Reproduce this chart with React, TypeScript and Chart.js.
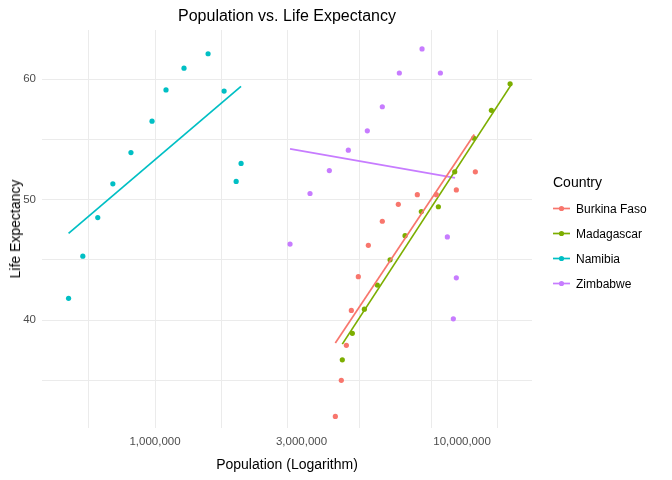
import { useEffect, useRef } from 'react';
import { Chart, registerables, type ChartConfiguration } from 'chart.js';

Chart.register(...registerables);

// population / life expectancy
const namibiaPop = [523000, 582000, 651000, 729000, 835000, 978000, 1086000, 1243000, 1489000, 1679000, 1838000, 1907000];
const namibiaLife = [41.8, 45.3, 48.5, 51.3, 53.9, 56.5, 59.1, 60.9, 62.1, 59.0, 51.5, 53.0];

const zimbabwePop = [2753000, 3198000, 3697000, 4263000, 4915000, 5500000, 6249000, 7409000, 8501000, 8957000, 9581000, 9369000];
const zimbabweLife = [46.3, 50.5, 52.4, 54.1, 55.7, 57.7, 60.5, 62.5, 60.5, 46.9, 43.5, 40.1];

const burkinaPop = [3867000, 4044000, 4200000, 4360000, 4594000, 4953000, 5500000, 6201000, 7152000, 8246000, 9581000, 11050000];
const burkinaLife = [32.0, 35.0, 37.9, 40.8, 43.6, 46.2, 48.2, 49.6, 50.4, 50.4, 50.8, 52.3];

const madagascarPop = [4074000, 4393000, 4807000, 5298000, 5830000, 6522000, 7370000, 8374000, 9467000, 10920000, 12460000, 14340000];
const madagascarLife = [36.7, 38.9, 40.9, 42.9, 45.0, 47.0, 49.0, 49.4, 52.3, 55.1, 57.4, 59.6];

// fitted trend line end points
const namibiaFitPop = [523000, 1906000];
const namibiaFitLife = [47.2, 59.4];
const zimbabweFitPop = [2753000, 9489000];
const zimbabweFitLife = [54.2, 51.8];
const burkinaFitPop = [3867000, 10960000];
const burkinaFitLife = [38.1, 55.4];
const madagascarFitPop = [4074000, 14520000];
const madagascarFitLife = [38.0, 59.6];

const X_GRID = [609000, 1000000, 1641000, 2692000, 4620000, 7930000, 13000000];
const X_LABELS = [1000000, 3000000, 10000000];
const Y_GRID = [35, 40, 45, 50, 55, 60];
const Y_LABELS = [40, 50, 60];

const countries = ['Burkina Faso', 'Madagascar', 'Namibia', 'Zimbabwe'];
const colors = ['#F8766D', '#7CAE00', '#00BFC4', '#C77CFF'];

const pts = (xs: number[], ys: number[]) => xs.map((x, i) => ({ x, y: ys[i] }));

export default function App() {
  const canvasRef = useRef<HTMLCanvasElement>(null);

  useEffect(() => {
    if (!canvasRef.current) return;
    const series = [
      [burkinaPop, burkinaLife, burkinaFitPop, burkinaFitLife],
      [madagascarPop, madagascarLife, madagascarFitPop, madagascarFitLife],
      [namibiaPop, namibiaLife, namibiaFitPop, namibiaFitLife],
      [zimbabwePop, zimbabweLife, zimbabweFitPop, zimbabweFitLife],
    ];
    const datasets: any[] = [];
    series.forEach(([px, py, fx, fy], i) => {
      datasets.push({
        label: countries[i],
        data: pts(px, py),
        backgroundColor: colors[i],
        borderColor: colors[i],
        pointRadius: 2.6,
        pointBorderWidth: 0,
        showLine: false,
      });
      datasets.push({
        label: countries[i] + ' fit',
        data: pts(fx, fy),
        borderColor: colors[i],
        borderWidth: 1.7,
        pointRadius: 0,
        showLine: true,
      });
    });

    const tickFont = { family: 'Arial, "Liberation Sans", sans-serif', size: 11.5 };
    const config: ChartConfiguration<'scatter'> = {
      type: 'scatter',
      data: { datasets },
      options: {
        animation: false,
        responsive: false,
        layout: { padding: { left: 0, top: 30, right: 140, bottom: 0 } },
        plugins: { legend: { display: false }, tooltip: { enabled: false } },
        scales: {
          x: {
            type: 'logarithmic',
            min: 428500,
            max: 16900000,
            border: { display: false },
            afterBuildTicks: (s: any) => {
              const vals = Array.from(new Set([...X_GRID, ...X_LABELS])).sort((a, b) => a - b);
              s.ticks = vals.map((v) => ({ value: v }));
            },
            afterFit: (s: any) => { s.height = 52; },
            grid: {
              drawTicks: false,
              color: (ctx: any) => (X_GRID.includes(ctx.tick?.value) ? '#EBEBEB' : 'rgba(0,0,0,0)'),
            },
            ticks: {
              autoSkip: false,
              maxRotation: 0,
              padding: 7,
              color: '#4D4D4D',
              font: tickFont,
              callback: (v: any) => (X_LABELS.includes(Number(v)) ? Number(v).toLocaleString('en-US') : ''),
            },
          },
          y: {
            min: 31.04,
            max: 64.07,
            border: { display: false },
            afterBuildTicks: (s: any) => { s.ticks = Y_GRID.map((v) => ({ value: v })); },
            afterFit: (s: any) => { s.width = 42; },
            grid: { drawTicks: false, color: '#EBEBEB' },
            ticks: {
              padding: 6,
              color: '#4D4D4D',
              font: tickFont,
              callback: (v: any) => (Y_LABELS.includes(Number(v)) ? String(v) : ''),
            },
          },
        },
      },
    };
    const chart = new Chart(canvasRef.current, config);
    return () => chart.destroy();
  }, []);

  const font = 'Arial, "Liberation Sans", sans-serif';
  return (
    <div style={{ position: 'fixed', left: 0, top: 0, width: 672, height: 480, background: '#fff', fontFamily: font }}>
      <canvas ref={canvasRef} width={672} height={480} style={{ position: 'absolute', left: 0, top: 0 }} />
      <div style={{ position: 'absolute', left: 42, width: 490, top: 7, textAlign: 'center', fontSize: 16, color: '#000' }}>
        Population vs. Life Expectancy
      </div>
      <div style={{ position: 'absolute', left: 42, width: 490, top: 456, textAlign: 'center', fontSize: 14, color: '#000' }}>
        Population (Logarithm)
      </div>
      <div style={{ position: 'absolute', left: 15, top: 229, fontSize: 14, color: '#000', transform: 'translate(-50%, -50%) rotate(-90deg)', whiteSpace: 'nowrap' }}>
        Life Expectancy
      </div>
      <div style={{ position: 'absolute', left: 553, top: 174 }}>
        <div style={{ fontSize: 14, color: '#000', marginBottom: 6 }}>Country</div>
        {countries.map((c, i) => (
          <div key={c} style={{ display: 'flex', alignItems: 'center', height: 25 }}>
            <svg width={17} height={17} style={{ marginRight: 6 }}>
              <line x1={0} y1={8.5} x2={17} y2={8.5} stroke={colors[i]} strokeWidth={1.7} />
              <circle cx={8.5} cy={8.5} r={2.6} fill={colors[i]} />
            </svg>
            <span style={{ fontSize: 12, color: '#000' }}>{c}</span>
          </div>
        ))}
      </div>
    </div>
  );
}
